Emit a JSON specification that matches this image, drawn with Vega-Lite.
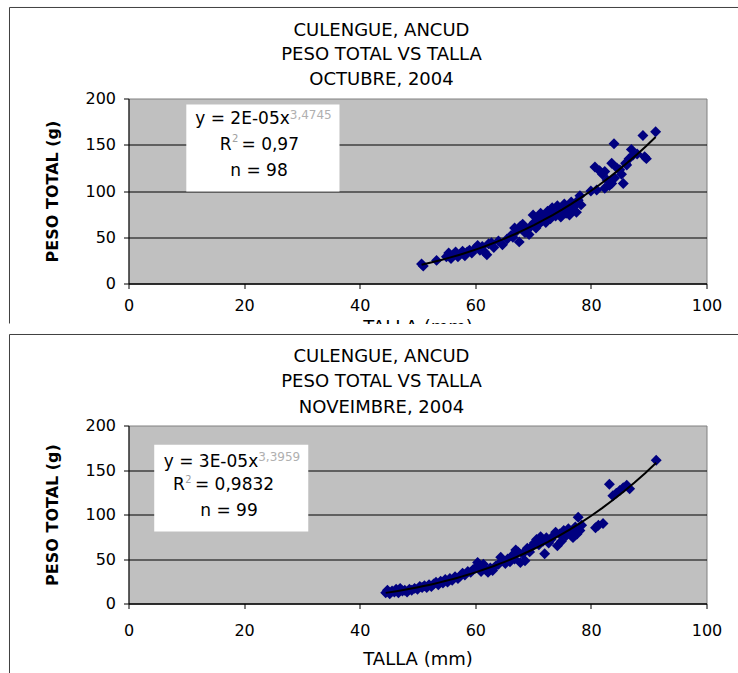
{
  "$schema": "https://vega.github.io/schema/vega-lite/v6.json",
  "autosize": {"type": "pad"},
  "padding": {"left": 7.5, "top": 5.5, "right": 0, "bottom": 0},
  "background": "white",
  "bounds": "flush",
  "spacing": 142,
  "datasets": {
    "oct": [
      {"talla": 50.7, "peso": 21}, {"talla": 51.0, "peso": 19}, {"talla": 53.3, "peso": 25}, {"talla": 55.0, "peso": 29},
      {"talla": 55.4, "peso": 33}, {"talla": 55.8, "peso": 27}, {"talla": 56.2, "peso": 31}, {"talla": 56.6, "peso": 34},
      {"talla": 57.0, "peso": 29}, {"talla": 57.4, "peso": 32}, {"talla": 57.8, "peso": 35}, {"talla": 58.2, "peso": 30},
      {"talla": 58.6, "peso": 34}, {"talla": 59.0, "peso": 36}, {"talla": 59.4, "peso": 33}, {"talla": 60.0, "peso": 38},
      {"talla": 60.4, "peso": 41}, {"talla": 60.8, "peso": 36}, {"talla": 61.2, "peso": 40}, {"talla": 61.6, "peso": 34},
      {"talla": 62.0, "peso": 31}, {"talla": 62.3, "peso": 43}, {"talla": 62.8, "peso": 44}, {"talla": 63.2, "peso": 39},
      {"talla": 64.0, "peso": 46}, {"talla": 64.7, "peso": 42}, {"talla": 65.5, "peso": 48}, {"talla": 66.2, "peso": 52},
      {"talla": 66.8, "peso": 60}, {"talla": 67.2, "peso": 57}, {"talla": 67.6, "peso": 45}, {"talla": 67.8, "peso": 62},
      {"talla": 68.2, "peso": 64}, {"talla": 68.6, "peso": 55}, {"talla": 69.0, "peso": 58}, {"talla": 69.3, "peso": 53},
      {"talla": 69.6, "peso": 62}, {"talla": 70.0, "peso": 74}, {"talla": 70.2, "peso": 66}, {"talla": 70.5, "peso": 60},
      {"talla": 70.8, "peso": 70}, {"talla": 71.0, "peso": 64}, {"talla": 71.3, "peso": 76}, {"talla": 71.6, "peso": 68},
      {"talla": 72.0, "peso": 72}, {"talla": 72.2, "peso": 66}, {"talla": 72.5, "peso": 78}, {"talla": 72.8, "peso": 74},
      {"talla": 73.0, "peso": 70}, {"talla": 73.3, "peso": 82}, {"talla": 73.6, "peso": 76}, {"talla": 73.9, "peso": 73},
      {"talla": 74.2, "peso": 84}, {"talla": 74.5, "peso": 78}, {"talla": 74.8, "peso": 72}, {"talla": 75.1, "peso": 80},
      {"talla": 75.4, "peso": 86}, {"talla": 75.7, "peso": 76}, {"talla": 76.0, "peso": 82}, {"talla": 76.3, "peso": 74},
      {"talla": 76.6, "peso": 88}, {"talla": 76.9, "peso": 79}, {"talla": 77.2, "peso": 84}, {"talla": 77.5, "peso": 77},
      {"talla": 77.8, "peso": 90}, {"talla": 78.1, "peso": 95}, {"talla": 78.3, "peso": 85}, {"talla": 80.0, "peso": 100},
      {"talla": 80.7, "peso": 126}, {"talla": 81.0, "peso": 101}, {"talla": 81.5, "peso": 122}, {"talla": 82.0, "peso": 118},
      {"talla": 82.4, "peso": 121}, {"talla": 82.4, "peso": 103}, {"talla": 82.8, "peso": 112}, {"talla": 83.2, "peso": 106},
      {"talla": 83.6, "peso": 130}, {"talla": 83.6, "peso": 108}, {"talla": 84.0, "peso": 151}, {"talla": 84.1, "peso": 114},
      {"talla": 84.5, "peso": 125}, {"talla": 85.0, "peso": 123}, {"talla": 85.3, "peso": 118}, {"talla": 85.6, "peso": 108},
      {"talla": 86.0, "peso": 130}, {"talla": 86.2, "peso": 128}, {"talla": 86.6, "peso": 135}, {"talla": 87.0, "peso": 145},
      {"talla": 87.3, "peso": 139}, {"talla": 88.0, "peso": 140}, {"talla": 89.0, "peso": 160}, {"talla": 89.3, "peso": 137},
      {"talla": 89.6, "peso": 135}, {"talla": 91.2, "peso": 164}, {"talla": 75.0, "peso": 74}, {"talla": 71.0, "peso": 72},
      {"talla": 66.5, "peso": 50}, {"talla": 58.0, "peso": 32}
    ],
    "nov": [
      {"talla": 44.5, "peso": 12}, {"talla": 44.8, "peso": 15}, {"talla": 45.2, "peso": 11}, {"talla": 45.6, "peso": 14},
      {"talla": 46.0, "peso": 13}, {"talla": 46.3, "peso": 16}, {"talla": 46.7, "peso": 12}, {"talla": 47.0, "peso": 17},
      {"talla": 47.4, "peso": 14}, {"talla": 47.8, "peso": 15}, {"talla": 48.2, "peso": 13}, {"talla": 48.6, "peso": 16},
      {"talla": 49.0, "peso": 15}, {"talla": 49.5, "peso": 17}, {"talla": 50.0, "peso": 16}, {"talla": 50.4, "peso": 19},
      {"talla": 50.8, "peso": 18}, {"talla": 51.2, "peso": 20}, {"talla": 51.6, "peso": 18}, {"talla": 52.0, "peso": 21},
      {"talla": 52.4, "peso": 19}, {"talla": 52.8, "peso": 22}, {"talla": 53.2, "peso": 24}, {"talla": 53.6, "peso": 21},
      {"talla": 54.0, "peso": 25}, {"talla": 54.4, "peso": 23}, {"talla": 54.8, "peso": 27}, {"talla": 55.2, "peso": 24},
      {"talla": 55.6, "peso": 28}, {"talla": 56.0, "peso": 26}, {"talla": 56.5, "peso": 30}, {"talla": 57.0, "peso": 28},
      {"talla": 57.4, "peso": 31}, {"talla": 57.8, "peso": 34}, {"talla": 58.2, "peso": 32}, {"talla": 58.7, "peso": 36},
      {"talla": 59.2, "peso": 35}, {"talla": 59.6, "peso": 38}, {"talla": 60.0, "peso": 40}, {"talla": 60.4, "peso": 46},
      {"talla": 60.7, "peso": 42}, {"talla": 61.0, "peso": 36}, {"talla": 61.4, "peso": 44}, {"talla": 61.8, "peso": 38},
      {"talla": 62.2, "peso": 35}, {"talla": 62.6, "peso": 40}, {"talla": 63.0, "peso": 37}, {"talla": 63.5, "peso": 42},
      {"talla": 64.0, "peso": 44}, {"talla": 64.4, "peso": 52}, {"talla": 64.8, "peso": 48}, {"talla": 65.2, "peso": 45},
      {"talla": 65.6, "peso": 50}, {"talla": 66.0, "peso": 47}, {"talla": 66.4, "peso": 54}, {"talla": 66.8, "peso": 50},
      {"talla": 67.0, "peso": 60}, {"talla": 67.4, "peso": 58}, {"talla": 67.8, "peso": 46}, {"talla": 68.2, "peso": 56},
      {"talla": 68.6, "peso": 48}, {"talla": 69.0, "peso": 62}, {"talla": 69.4, "peso": 58}, {"talla": 69.8, "peso": 64},
      {"talla": 70.2, "peso": 68}, {"talla": 70.6, "peso": 72}, {"talla": 71.0, "peso": 66}, {"talla": 71.3, "peso": 75},
      {"talla": 71.7, "peso": 70}, {"talla": 72.0, "peso": 56}, {"talla": 72.3, "peso": 74}, {"talla": 72.7, "peso": 68},
      {"talla": 73.1, "peso": 72}, {"talla": 73.5, "peso": 76}, {"talla": 73.9, "peso": 80}, {"talla": 74.2, "peso": 65},
      {"talla": 74.6, "peso": 78}, {"talla": 74.9, "peso": 70}, {"talla": 75.3, "peso": 82}, {"talla": 75.7, "peso": 76},
      {"talla": 76.1, "peso": 84}, {"talla": 76.5, "peso": 80}, {"talla": 76.9, "peso": 74}, {"talla": 77.3, "peso": 86},
      {"talla": 77.6, "peso": 78}, {"talla": 77.8, "peso": 97}, {"talla": 78.1, "peso": 82}, {"talla": 78.4, "peso": 88},
      {"talla": 80.8, "peso": 85}, {"talla": 81.3, "peso": 88}, {"talla": 82.1, "peso": 90}, {"talla": 83.2, "peso": 134},
      {"talla": 83.8, "peso": 121}, {"talla": 84.4, "peso": 124}, {"talla": 85.0, "peso": 127}, {"talla": 85.6, "peso": 130},
      {"talla": 86.2, "peso": 133}, {"talla": 86.7, "peso": 129}, {"talla": 91.3, "peso": 161}
    ]
  },
  "vconcat": [
    {
      "width": 578,
      "height": 185,
      "encoding": {
        "x": {"type": "quantitative", "scale": {"domain": [0, 100], "nice": false},
              "axis": {"title": "TALLA (mm)", "values": [0, 20, 40, 60, 80, 100], "grid": false, "labelPadding": 9, "titlePadding": 5}},
        "y": {"type": "quantitative", "scale": {"domain": [0, 200], "nice": false},
              "axis": {"title": "PESO TOTAL (g)", "values": [0, 50, 100, 150, 200], "grid": true,
                       "gridColor": {"condition": {"test": "datum.value >= 200", "value": "transparent"}, "value": "black"}}}
      },
      "layer": [
        {
          "data": {"name": "oct"},
          "mark": {"type": "point", "shape": "diamond", "filled": true, "color": "#000080", "size": 120, "opacity": 1, "strokeWidth": 0},
          "encoding": {"x": {"field": "talla"}, "y": {"field": "peso"}}
        },
        {
          "data": {"name": "oct"},
          "transform": [{"regression": "peso", "on": "talla", "method": "pow"}],
          "mark": {"type": "line", "color": "black", "strokeWidth": 2},
          "encoding": {"x": {"field": "talla"}, "y": {"field": "peso"}}
        },
        {
          "data": {"values": [{}]},
          "mark": {"type": "rule", "color": "#404040", "strokeWidth": 1},
          "encoding": {"x": {"datum": -20.59}, "x2": {"datum": 105.54}, "y": {"datum": 298.4}}
        },
        {
          "data": {"values": [{}]},
          "mark": {"type": "rule", "color": "#404040", "strokeWidth": 1},
          "encoding": {"x": {"datum": -20.59}, "y": {"datum": 298.4}, "y2": {"datum": -43.24}}
        },
        {
          "data": {"values": [{}]},
          "mark": {"type": "text", "text": "CULENGUE, ANCUD", "align": "center", "baseline": "middle", "font": "DejaVu Sans", "fontSize": 18, "color": "black"},
          "encoding": {"x": {"datum": 43.77}, "y": {"datum": 273.5}}
        },
        {
          "data": {"values": [{}]},
          "mark": {"type": "text", "text": "PESO TOTAL VS TALLA", "align": "center", "baseline": "middle", "font": "DejaVu Sans", "fontSize": 18, "color": "black"},
          "encoding": {"x": {"datum": 43.77}, "y": {"datum": 246.5}}
        },
        {
          "data": {"values": [{}]},
          "mark": {"type": "text", "text": "OCTUBRE, 2004", "align": "center", "baseline": "middle", "font": "DejaVu Sans", "fontSize": 18, "color": "black"},
          "encoding": {"x": {"datum": 43.77}, "y": {"datum": 220.5}}
        },
        {
          "data": {"values": [{}]},
          "mark": {"type": "rect", "fill": "white"},
          "encoding": {"x": {"datum": 10.0}, "x2": {"datum": 36.5}, "y": {"datum": 193.5}, "y2": {"datum": 99.5}}
        },
        {
          "data": {"values": [{}]},
          "mark": {"type": "text", "text": "y = 2E-05x", "align": "right", "baseline": "middle", "font": "DejaVu Sans", "fontSize": 17, "color": "black"},
          "encoding": {"x": {"datum": 27.9}, "y": {"datum": 177.6}}
        },
        {
          "data": {"values": [{}]},
          "mark": {"type": "text", "text": "3,4745", "align": "left", "baseline": "middle", "font": "DejaVu Sans", "fontSize": 12, "color": "#b0b0b0"},
          "encoding": {"x": {"datum": 27.9}, "y": {"datum": 182.5}}
        },
        {
          "data": {"values": [{}]},
          "mark": {"type": "text", "text": "R", "align": "right", "baseline": "middle", "font": "DejaVu Sans", "fontSize": 17, "color": "black"},
          "encoding": {"x": {"datum": 17.82}, "y": {"datum": 149.9}}
        },
        {
          "data": {"values": [{}]},
          "mark": {"type": "text", "text": "2", "align": "left", "baseline": "middle", "font": "DejaVu Sans", "fontSize": 10, "color": "#a0a0a0"},
          "encoding": {"x": {"datum": 17.9}, "y": {"datum": 155.7}}
        },
        {
          "data": {"values": [{}]},
          "mark": {"type": "text", "text": "= 0,97", "align": "left", "baseline": "middle", "font": "DejaVu Sans", "fontSize": 17, "color": "black"},
          "encoding": {"x": {"datum": 19.55}, "y": {"datum": 149.9}}
        },
        {
          "data": {"values": [{}]},
          "mark": {"type": "text", "text": "n = 98", "align": "center", "baseline": "middle", "font": "DejaVu Sans", "fontSize": 17, "color": "black"},
          "encoding": {"x": {"datum": 22.58}, "y": {"datum": 121.1}}
        }
      ]
    },
    {
      "width": 578,
      "height": 178,
      "encoding": {
        "x": {"type": "quantitative", "scale": {"domain": [0, 100], "nice": false},
              "axis": {"title": "TALLA (mm)", "values": [0, 20, 40, 60, 80, 100], "grid": false, "labelPadding": 14, "titlePadding": 12}},
        "y": {"type": "quantitative", "scale": {"domain": [0, 200], "nice": false},
              "axis": {"title": "PESO TOTAL (g)", "values": [0, 50, 100, 150, 200], "grid": true,
                       "gridColor": {"condition": {"test": "datum.value >= 200", "value": "transparent"}, "value": "black"}}}
      },
      "layer": [
        {
          "data": {"name": "nov"},
          "mark": {"type": "point", "shape": "diamond", "filled": true, "color": "#000080", "size": 120, "opacity": 1, "strokeWidth": 0},
          "encoding": {"x": {"field": "talla"}, "y": {"field": "peso"}}
        },
        {
          "data": {"name": "nov"},
          "transform": [{"regression": "peso", "on": "talla", "method": "pow"}],
          "mark": {"type": "line", "color": "black", "strokeWidth": 2},
          "encoding": {"x": {"field": "talla"}, "y": {"field": "peso"}}
        },
        {
          "data": {"values": [{}]},
          "mark": {"type": "rect", "fill": "white"},
          "encoding": {"x": {"datum": -20.42}, "x2": {"datum": 105.54}, "y": {"datum": 314.04}, "y2": {"datum": 302.8}}
        },
        {
          "data": {"values": [{}]},
          "mark": {"type": "rule", "color": "#404040", "strokeWidth": 1},
          "encoding": {"x": {"datum": -20.59}, "x2": {"datum": 105.54}, "y": {"datum": 302.25}}
        },
        {
          "data": {"values": [{}]},
          "mark": {"type": "rule", "color": "#404040", "strokeWidth": 1},
          "encoding": {"x": {"datum": -20.59}, "y": {"datum": 302.25}, "y2": {"datum": -78.65}}
        },
        {
          "data": {"values": [{}]},
          "mark": {"type": "text", "text": "CULENGUE, ANCUD", "align": "center", "baseline": "middle", "font": "DejaVu Sans", "fontSize": 18, "color": "black"},
          "encoding": {"x": {"datum": 43.77}, "y": {"datum": 277.5}}
        },
        {
          "data": {"values": [{}]},
          "mark": {"type": "text", "text": "PESO TOTAL VS TALLA", "align": "center", "baseline": "middle", "font": "DejaVu Sans", "fontSize": 18, "color": "black"},
          "encoding": {"x": {"datum": 43.77}, "y": {"datum": 249.4}}
        },
        {
          "data": {"values": [{}]},
          "mark": {"type": "text", "text": "NOVEIMBRE, 2004", "align": "center", "baseline": "middle", "font": "DejaVu Sans", "fontSize": 18, "color": "black"},
          "encoding": {"x": {"datum": 43.77}, "y": {"datum": 220.2}}
        },
        {
          "data": {"values": [{}]},
          "mark": {"type": "rect", "fill": "white"},
          "encoding": {"x": {"datum": 4.45}, "x2": {"datum": 31.1}, "y": {"datum": 178.3}, "y2": {"datum": 80.9}}
        },
        {
          "data": {"values": [{}]},
          "mark": {"type": "text", "text": "y = 3E-05x", "align": "right", "baseline": "middle", "font": "DejaVu Sans", "fontSize": 17, "color": "black"},
          "encoding": {"x": {"datum": 22.44}, "y": {"datum": 158.8}}
        },
        {
          "data": {"values": [{}]},
          "mark": {"type": "text", "text": "3,3959", "align": "left", "baseline": "middle", "font": "DejaVu Sans", "fontSize": 12, "color": "#b0b0b0"},
          "encoding": {"x": {"datum": 22.44}, "y": {"datum": 164.5}}
        },
        {
          "data": {"values": [{}]},
          "mark": {"type": "text", "text": "R", "align": "right", "baseline": "middle", "font": "DejaVu Sans", "fontSize": 17, "color": "black"},
          "encoding": {"x": {"datum": 9.74}, "y": {"datum": 133.4}}
        },
        {
          "data": {"values": [{}]},
          "mark": {"type": "text", "text": "2", "align": "left", "baseline": "middle", "font": "DejaVu Sans", "fontSize": 10, "color": "#a0a0a0"},
          "encoding": {"x": {"datum": 9.82}, "y": {"datum": 139.3}}
        },
        {
          "data": {"values": [{}]},
          "mark": {"type": "text", "text": "= 0,9832", "align": "left", "baseline": "middle", "font": "DejaVu Sans", "fontSize": 17, "color": "black"},
          "encoding": {"x": {"datum": 11.5}, "y": {"datum": 133.4}}
        },
        {
          "data": {"values": [{}]},
          "mark": {"type": "text", "text": "n = 99", "align": "center", "baseline": "middle", "font": "DejaVu Sans", "fontSize": 17, "color": "black"},
          "encoding": {"x": {"datum": 17.39}, "y": {"datum": 103.4}}
        }
      ]
    }
  ],
  "config": {
    "view": {"fill": "#c0c0c0", "stroke": "#808080", "strokeWidth": 1},
    "font": "DejaVu Sans",
    "axis": {
      "labelFont": "DejaVu Sans", "labelFontSize": 16, "labelColor": "black",
      "titleFont": "DejaVu Sans", "titleColor": "black",
      "domainColor": "black", "domainWidth": 1, "tickColor": "black", "tickWidth": 1, "tickSize": 5,
      "labelFlush": false, "labelOverlap": false
    },
    "axisX": {"titleFontSize": 18, "titleFontWeight": "normal"},
    "axisY": {"labelPadding": 8, "titlePadding": 24, "titleFontSize": 16, "titleFontWeight": "bold", "gridWidth": 1}
  }
}
